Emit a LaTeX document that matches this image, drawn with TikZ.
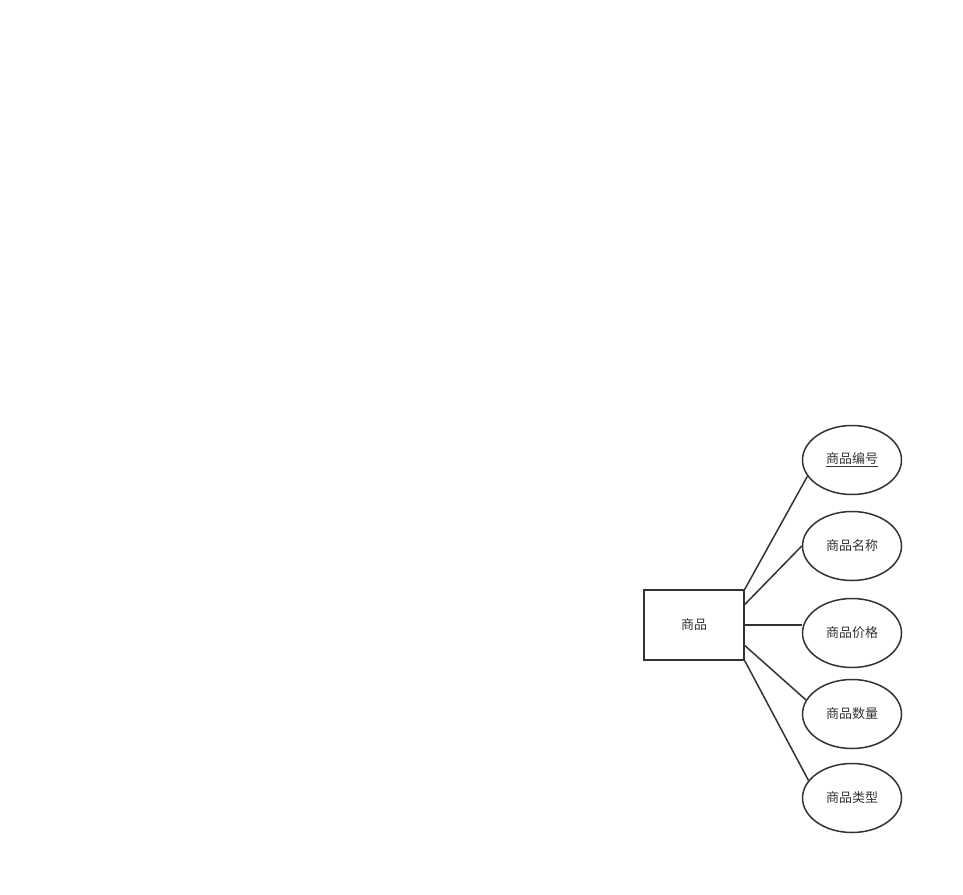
\documentclass[tikz,border=0pt]{standalone}
\usepackage{fontspec}
\setmainfont{Noto Sans CJK SC}
\usetikzlibrary{shapes.geometric}
\definecolor{ink}{HTML}{333333}
\begin{document}
\begin{tikzpicture}[x=1pt, y=-1pt,
          entity/.style={draw=ink, line width=1.5pt, minimum width=100pt, minimum height=70pt, inner sep=0pt, text=ink, font=\fontsize{13}{15}\selectfont},
          attribute/.style={ellipse, draw=ink, line width=1.5pt, minimum width=99pt, minimum height=69pt, inner sep=0pt, text=ink, font=\fontsize{13}{15}\selectfont},
          link/.style={draw=ink, line width=1.5pt}]
          \useasboundingbox (0,0) rectangle (963,894);
          \node[entity] (goods) at (694,625) {商品};
          \node[attribute] (gid) at (852,460) {\underline{商品编号}};
          \node[attribute] (gname) at (852,546) {商品名称};
          \node[attribute] (gprice) at (852,633) {商品价格};
          \node[attribute] (gnum) at (852,714) {商品数量};
          \node[attribute] (gtype) at (852,798) {商品类型};
          % attribute links
          \draw[link] (goods.north east) -- (gid.200);
          \draw[link] (goods.22) -- (gname.west);
          \draw[link] (goods.east) -- (goods.east -| gprice.west);
          \draw[link] (goods.-22) -- (gnum.163);
          \draw[link] (goods.south east) -- (gtype.158);
      \end{tikzpicture}
\end{document}
